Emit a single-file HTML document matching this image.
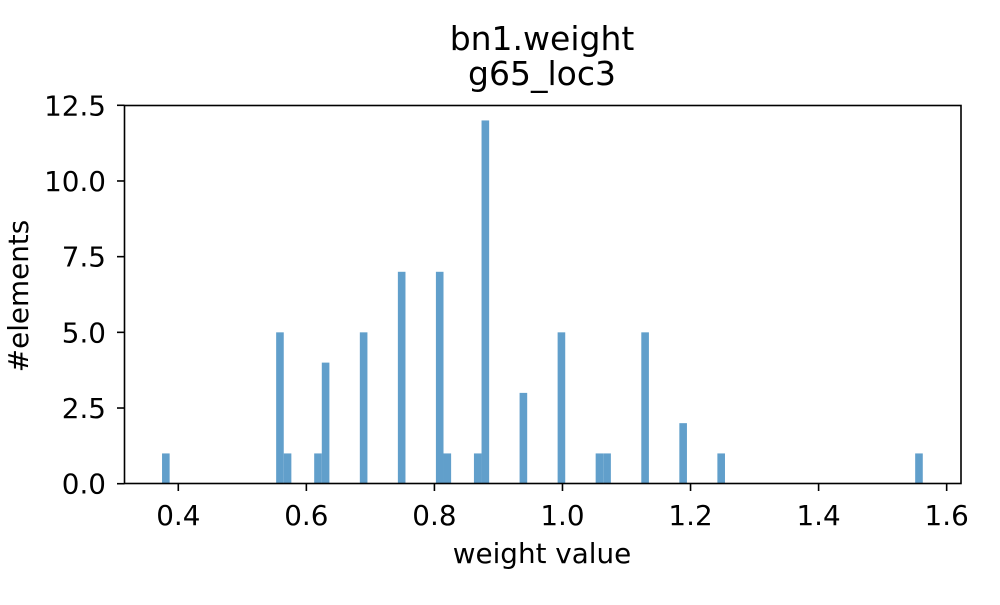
<!DOCTYPE html>
<html><head><meta charset="utf-8"><style>
body{margin:0;background:#fff}
svg text{font-family:"DejaVu Sans","Liberation Sans",sans-serif;fill:#000}
</style></head><body>
<svg id="chart" width="1000" height="600" xmlns="http://www.w3.org/2000/svg">
<text x="542" y="50" font-size="33" text-anchor="middle">bn1.weight</text>
<text x="542" y="85" font-size="33" text-anchor="middle">g65_loc3</text>
<g id="bars"></g>
<g id="xticks"></g>
<g id="yticks"></g>
<rect x="124.5" y="105.5" width="836.5" height="378" fill="none" stroke="#000" stroke-width="1.6"/>
<text x="542" y="563" font-size="27.8" text-anchor="middle">weight value</text>
<text transform="translate(28,296) rotate(-90)" font-size="27.8" text-anchor="middle">#elements</text>
</svg>
<script>
const binMin = 0.3746;
const binMax = 1.5627;
const binIndices = [0, 15, 16, 20, 21, 26, 31, 36, 37, 41, 42, 47, 52, 57, 58, 63, 68, 73, 99];
const binCounts  = [1, 5, 1, 1, 4, 5, 7, 7, 1, 1, 12, 3, 5, 1, 1, 5, 2, 1, 1];
const nBins = 100;
const xTickLabels = ["0.4","0.6","0.8","1.0","1.2","1.4","1.6"];
const yTickLabels = ["0.0","2.5","5.0","7.5","10.0","12.5"];
const NS="http://www.w3.org/2000/svg";
const xs = v => 178.3 + (v - 0.4) * 640.3;
const ys = v => 483.7 - v * (483.7 - 105.3) / 12.5;
const bw = (binMax - binMin) / nBins;
const bars = document.getElementById('bars');
binIndices.forEach((b, i) => {
  const x0 = xs(binMin + b * bw), x1 = xs(binMin + (b + 1) * bw);
  const r = document.createElementNS(NS, 'rect');
  r.setAttribute('x', x0); r.setAttribute('width', x1 - x0);
  r.setAttribute('y', ys(binCounts[i])); r.setAttribute('height', ys(0) - ys(binCounts[i]));
  r.setAttribute('fill', '#619fcb');
  
  
  bars.appendChild(r);
});
const xg = document.getElementById('xticks');
xTickLabels.forEach(t => {
  const x = xs(parseFloat(t));
  const l = document.createElementNS(NS, 'line');
  l.setAttribute('x1', x); l.setAttribute('x2', x); l.setAttribute('y1', 483.5); l.setAttribute('y2', 491);
  l.setAttribute('stroke', '#000'); l.setAttribute('stroke-width', '1.6');
  
  
  xg.appendChild(l);
  const tx = document.createElementNS(NS, 'text');
  tx.setAttribute('x', x); tx.setAttribute('y', 525); tx.setAttribute('font-size', '27.8'); tx.setAttribute('text-anchor', 'middle');
  tx.textContent = t;
  
  
  xg.appendChild(tx);
});
const yg = document.getElementById('yticks');
yTickLabels.forEach(t => {
  const y = ys(parseFloat(t));
  const l = document.createElementNS(NS, 'line');
  l.setAttribute('x1', 117); l.setAttribute('x2', 124.5); l.setAttribute('y1', y); l.setAttribute('y2', y);
  l.setAttribute('stroke', '#000'); l.setAttribute('stroke-width', '1.6');
  
  
  yg.appendChild(l);
  const tx = document.createElementNS(NS, 'text');
  tx.setAttribute('x', 106); tx.setAttribute('y', y + 10); tx.setAttribute('font-size', '27.8'); tx.setAttribute('text-anchor', 'end');
  tx.textContent = t;
  
  
  yg.appendChild(tx);
});
</script>
</body></html>
